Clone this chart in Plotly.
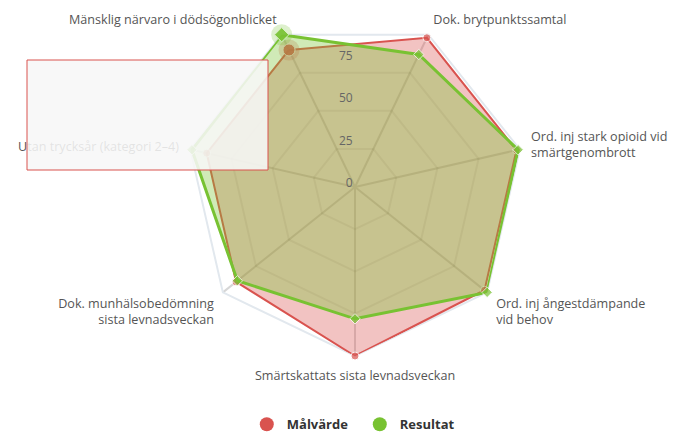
import plotly.graph_objects as go

categories = [
    "Mänsklig närvaro i dödsögonblicket",
    "Dok. brytpunktssamtal",
    "Ord. inj stark opioid vid<br>smärtgenombrott",
    "Ord. inj ångestdämpande<br>vid behov",
    "Smärtskattats sista levnadsveckan",
    "Dok. munhälsobedömning<br>sista levnadsveckan",
    "Utan trycksår (kategori 2–4)",
]
malvarde = [90, 98, 98, 98, 100, 90, 90]
resultat = [100, 87, 99, 100, 78, 89, 99]
radial_ticks = [0, 25, 50, 75]

RED = "#d9534f"
GREEN = "#78c232"

def closed(v):
    return list(v) + [v[0]]

n = len(categories)
red_sizes = [12] + [8] * (n - 1) + [12]
green_sizes = [11] + [8] * (n - 1) + [11]

fig = go.Figure()

fig.add_trace(go.Scatterpolar(
    r=closed(malvarde), theta=closed(categories), mode="lines+markers",
    fill="toself", fillcolor="rgba(217,83,79,0.35)",
    line=dict(color=RED, width=2),
    marker=dict(color=RED, size=red_sizes, symbol="circle"),
    showlegend=False, hoverinfo="skip",
))
fig.add_trace(go.Scatterpolar(
    r=[malvarde[0]], theta=[categories[0]], mode="markers",
    marker=dict(color="rgba(217,83,79,0.25)", size=21),
    showlegend=False, hoverinfo="skip",
))
fig.add_trace(go.Scatterpolar(
    r=closed(resultat), theta=closed(categories), mode="lines+markers",
    fill="toself", fillcolor="rgba(120,194,50,0.35)",
    line=dict(color=GREEN, width=3),
    marker=dict(color=GREEN, size=green_sizes, symbol="diamond"),
    showlegend=False, hoverinfo="skip",
))
fig.add_trace(go.Scatterpolar(
    r=[resultat[0]], theta=[categories[0]], mode="markers",
    marker=dict(color="rgba(120,194,50,0.25)", size=21),
    showlegend=False, hoverinfo="skip",
))
# legend entries
fig.add_trace(go.Scatterpolar(r=[None], theta=[None], mode="markers", name="Målvärde",
                              marker=dict(color=RED, size=14, symbol="circle")))
fig.add_trace(go.Scatterpolar(r=[None], theta=[None], mode="markers", name="Resultat",
                              marker=dict(color=GREEN, size=14, symbol="circle")))
# overlay subplot only carrying the vertical radial tick labels
fig.add_trace(go.Scatterpolar(r=[None], theta=[None], subplot="polar2",
                              showlegend=False, hoverinfo="skip"))

ROT = 90 + 360 / 14
DOMAIN = dict(x=[186 / 675, 524 / 675], y=[1 - 356 / 435, 1 - 18 / 435])
LABEL_DOMAIN = dict(x=[186 / 675, 524 / 675], y=[1 - 352 / 435, 1 - 14 / 435])

fig.update_layout(
    width=675, height=435,
    margin=dict(l=0, r=0, t=0, b=0, autoexpand=False),
    paper_bgcolor="white",
    font=dict(family="Open Sans", size=12, color="#666666"),
    polar=dict(
        domain=DOMAIN,
        gridshape="linear",
        bgcolor="rgba(0,0,0,0)",
        radialaxis=dict(
            range=[0, 100], tickvals=radial_ticks, showticklabels=False,
            showline=False, ticks="", gridcolor="rgba(0,0,0,0.08)", gridwidth=1.5,
            layer="above traces",
        ),
        angularaxis=dict(
            direction="clockwise", rotation=ROT,
            linecolor="#e2e8ee", linewidth=2, gridcolor="#d6d6d6", gridwidth=1.5,
            ticks="outside", ticklen=8, tickcolor="rgba(0,0,0,0)", layer="below traces",
            tickfont=dict(family="Open Sans", size=12.6, color="#555555"),
        ),
    ),
    polar2=dict(
        domain=LABEL_DOMAIN,
        bgcolor="rgba(0,0,0,0)",
        radialaxis=dict(
            range=[0, 100], tickvals=radial_ticks, angle=90, tickangle=90,
            side="counterclockwise", showgrid=False, showline=False, ticks="",
            tickfont=dict(family="Open Sans", size=12, color="#666666"),
        ),
        angularaxis=dict(showgrid=False, showline=False, showticklabels=False, ticks=""),
    ),
    legend=dict(
        orientation="h", x=0.533, xanchor="center", y=-0.01, yanchor="bottom",
        entrywidth=68,
        font=dict(family="Open Sans", size=13, color="#333333", weight="bold"),
    ),
    shapes=[dict(
        type="rect", xref="paper", yref="paper",
        x0=27 / 675, x1=268 / 675, y0=1 - 170 / 435, y1=1 - 60 / 435,
        fillcolor="rgba(247,247,247,0.88)", line=dict(color=RED, width=1),
        layer="above",
    )],
)

fig.write_html("out.html", config={"displayModeBar": False},
               post_script="document.body.style.margin='0';")
